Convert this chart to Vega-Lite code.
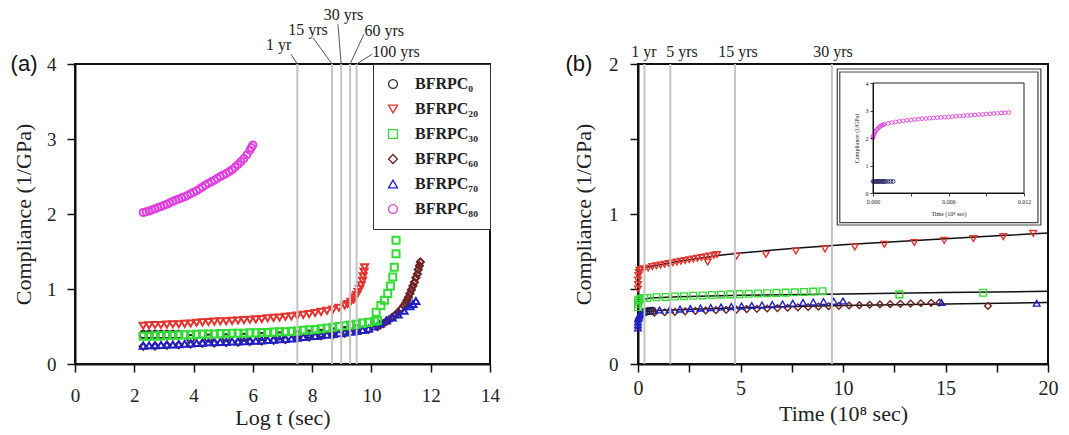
{
"$schema": "https://vega.github.io/schema/vega-lite/v6.json",
"background": "white",
"padding": {"left": 9, "top": 5, "right": 5, "bottom": 2},
"spacing": 63,
"resolve": {"scale": {"color": "independent", "shape": "independent"}, "legend": {"color": "independent", "shape": "independent"}},
"config": {
  "font": "Liberation Serif",
  "view": {"stroke": "#111", "strokeWidth": 2},
  "axis": {"grid": false, "domainColor": "#111", "domainWidth": 2, "tickColor": "#111", "tickWidth": 1.5, "labelColor": "#222", "titleColor": "#222", "labelFont": "Liberation Serif", "titleFont": "Liberation Serif", "titleFontWeight": "normal", "labelFlush": false, "labelOverlap": false}
},
"datasets": {
  "A": [
    {"g":"0","t":2.3,"c":0.395},{"g":"0","t":2.5,"c":0.395},{"g":"0","t":2.7,"c":0.395},{"g":"0","t":2.9,"c":0.395},{"g":"0","t":3.1,"c":0.395},{"g":"0","t":3.3,"c":0.395},{"g":"0","t":3.5,"c":0.395},{"g":"0","t":3.9,"c":0.34},{"g":"0","t":4.5,"c":0.345},{"g":"0","t":5.1,"c":0.35},{"g":"0","t":5.7,"c":0.355},{"g":"0","t":6.3,"c":0.365},{"g":"0","t":6.9,"c":0.375},{"g":"0","t":7.5,"c":0.39},{"g":"0","t":7.9,"c":0.4},{"g":"0","t":8.3,"c":0.41},{"g":"0","t":8.7,"c":0.43},{"g":"0","t":9.1,"c":0.445},{"g":"0","t":9.5,"c":0.47},
    {"g":"60","t":2.3,"c":0.235},{"g":"60","t":2.7,"c":0.24},{"g":"60","t":3.1,"c":0.25},{"g":"60","t":3.5,"c":0.255},{"g":"60","t":3.9,"c":0.265},{"g":"60","t":4.3,"c":0.275},{"g":"60","t":4.7,"c":0.28},{"g":"60","t":5.1,"c":0.285},{"g":"60","t":5.5,"c":0.29},{"g":"60","t":5.9,"c":0.3},{"g":"60","t":6.3,"c":0.305},{"g":"60","t":6.7,"c":0.315},{"g":"60","t":7.1,"c":0.325},{"g":"60","t":7.5,"c":0.34},{"g":"60","t":7.9,"c":0.36},{"g":"60","t":8.3,"c":0.375},{"g":"60","t":8.7,"c":0.39},{"g":"60","t":9.1,"c":0.41},{"g":"60","t":9.5,"c":0.43},{"g":"60","t":9.9,"c":0.46},{"g":"60","t":10.2,"c":0.5},{"g":"60","t":10.3,"c":0.52},{"g":"60","t":10.4,"c":0.54},{"g":"60","t":10.5,"c":0.565},{"g":"60","t":10.6,"c":0.59},{"g":"60","t":10.7,"c":0.62},{"g":"60","t":10.8,"c":0.65},{"g":"60","t":10.9,"c":0.69},{"g":"60","t":11.0,"c":0.73},{"g":"60","t":11.1,"c":0.78},{"g":"60","t":11.15,"c":0.81},{"g":"60","t":11.2,"c":0.85},{"g":"60","t":11.25,"c":0.89},{"g":"60","t":11.3,"c":0.94},{"g":"60","t":11.35,"c":0.99},{"g":"60","t":11.4,"c":1.04},{"g":"60","t":11.45,"c":1.09},{"g":"60","t":11.5,"c":1.15},{"g":"60","t":11.55,"c":1.2},{"g":"60","t":11.58,"c":1.26},{"g":"60","t":11.62,"c":1.31},{"g":"60","t":11.65,"c":1.36},
    {"g":"70","t":2.3,"c":0.245},{"g":"70","t":2.5,"c":0.25},{"g":"70","t":2.7,"c":0.25},{"g":"70","t":2.9,"c":0.255},{"g":"70","t":3.1,"c":0.26},{"g":"70","t":3.3,"c":0.26},{"g":"70","t":3.5,"c":0.265},{"g":"70","t":3.7,"c":0.27},{"g":"70","t":3.9,"c":0.275},{"g":"70","t":4.1,"c":0.28},{"g":"70","t":4.3,"c":0.285},{"g":"70","t":4.5,"c":0.29},{"g":"70","t":4.7,"c":0.29},{"g":"70","t":4.9,"c":0.295},{"g":"70","t":5.1,"c":0.295},{"g":"70","t":5.3,"c":0.3},{"g":"70","t":5.5,"c":0.3},{"g":"70","t":5.7,"c":0.305},{"g":"70","t":5.9,"c":0.31},{"g":"70","t":6.1,"c":0.31},{"g":"70","t":6.3,"c":0.315},{"g":"70","t":6.5,"c":0.32},{"g":"70","t":6.7,"c":0.325},{"g":"70","t":6.9,"c":0.33},{"g":"70","t":7.1,"c":0.335},{"g":"70","t":7.3,"c":0.34},{"g":"70","t":7.5,"c":0.35},{"g":"70","t":7.7,"c":0.36},{"g":"70","t":7.9,"c":0.37},{"g":"70","t":8.1,"c":0.375},{"g":"70","t":8.3,"c":0.385},{"g":"70","t":8.5,"c":0.39},{"g":"70","t":8.7,"c":0.4},{"g":"70","t":8.9,"c":0.41},{"g":"70","t":9.1,"c":0.42},{"g":"70","t":9.3,"c":0.43},{"g":"70","t":9.5,"c":0.44},{"g":"70","t":9.7,"c":0.455},{"g":"70","t":9.9,"c":0.47},{"g":"70","t":10.1,"c":0.5},{"g":"70","t":10.3,"c":0.54},{"g":"70","t":10.5,"c":0.58},{"g":"70","t":10.7,"c":0.62},{"g":"70","t":10.9,"c":0.66},{"g":"70","t":11.1,"c":0.71},{"g":"70","t":11.3,"c":0.77},{"g":"70","t":11.4,"c":0.8},{"g":"70","t":11.5,"c":0.84},
    {"g":"30","t":2.3,"c":0.37},{"g":"30","t":2.5,"c":0.37},{"g":"30","t":2.7,"c":0.375},{"g":"30","t":2.9,"c":0.375},{"g":"30","t":3.1,"c":0.38},{"g":"30","t":3.3,"c":0.38},{"g":"30","t":3.5,"c":0.385},{"g":"30","t":3.7,"c":0.39},{"g":"30","t":3.9,"c":0.39},{"g":"30","t":4.1,"c":0.395},{"g":"30","t":4.3,"c":0.4},{"g":"30","t":4.5,"c":0.4},{"g":"30","t":4.7,"c":0.4},{"g":"30","t":4.9,"c":0.405},{"g":"30","t":5.1,"c":0.405},{"g":"30","t":5.3,"c":0.41},{"g":"30","t":5.5,"c":0.41},{"g":"30","t":5.7,"c":0.41},{"g":"30","t":5.9,"c":0.415},{"g":"30","t":6.1,"c":0.415},{"g":"30","t":6.3,"c":0.42},{"g":"30","t":6.5,"c":0.42},{"g":"30","t":6.7,"c":0.425},{"g":"30","t":6.9,"c":0.43},{"g":"30","t":7.1,"c":0.43},{"g":"30","t":7.3,"c":0.435},{"g":"30","t":7.5,"c":0.44},{"g":"30","t":7.7,"c":0.45},{"g":"30","t":7.9,"c":0.455},{"g":"30","t":8.1,"c":0.46},{"g":"30","t":8.3,"c":0.47},{"g":"30","t":8.5,"c":0.48},{"g":"30","t":8.7,"c":0.49},{"g":"30","t":8.9,"c":0.5},{"g":"30","t":9.1,"c":0.51},{"g":"30","t":9.3,"c":0.52},{"g":"30","t":9.5,"c":0.53},{"g":"30","t":9.7,"c":0.545},{"g":"30","t":9.9,"c":0.555},{"g":"30","t":10.1,"c":0.57},{"g":"30","t":10.2,"c":0.58},{"g":"30","t":10.16,"c":0.69},{"g":"30","t":10.32,"c":0.78},{"g":"30","t":10.44,"c":0.85},{"g":"30","t":10.55,"c":0.94},{"g":"30","t":10.64,"c":1.04},{"g":"30","t":10.72,"c":1.16},{"g":"30","t":10.77,"c":1.29},{"g":"30","t":10.83,"c":1.47},{"g":"30","t":10.83,"c":1.65},
    {"g":"20","t":2.3,"c":0.51},{"g":"20","t":2.5,"c":0.515},{"g":"20","t":2.7,"c":0.52},{"g":"20","t":2.9,"c":0.52},{"g":"20","t":3.1,"c":0.525},{"g":"20","t":3.3,"c":0.53},{"g":"20","t":3.5,"c":0.53},{"g":"20","t":3.7,"c":0.535},{"g":"20","t":3.9,"c":0.54},{"g":"20","t":4.1,"c":0.55},{"g":"20","t":4.3,"c":0.555},{"g":"20","t":4.5,"c":0.56},{"g":"20","t":4.7,"c":0.565},{"g":"20","t":4.9,"c":0.57},{"g":"20","t":5.1,"c":0.57},{"g":"20","t":5.3,"c":0.575},{"g":"20","t":5.5,"c":0.58},{"g":"20","t":5.7,"c":0.585},{"g":"20","t":5.9,"c":0.59},{"g":"20","t":6.1,"c":0.595},{"g":"20","t":6.3,"c":0.6},{"g":"20","t":6.5,"c":0.61},{"g":"20","t":6.7,"c":0.615},{"g":"20","t":6.9,"c":0.62},{"g":"20","t":7.1,"c":0.63},{"g":"20","t":7.3,"c":0.635},{"g":"20","t":7.5,"c":0.645},{"g":"20","t":7.7,"c":0.655},{"g":"20","t":7.9,"c":0.665},{"g":"20","t":8.1,"c":0.68},{"g":"20","t":8.3,"c":0.695},{"g":"20","t":8.5,"c":0.71},{"g":"20","t":8.7,"c":0.725},{"g":"20","t":8.9,"c":0.75},{"g":"20","t":9.1,"c":0.78},{"g":"20","t":9.2,"c":0.8},{"g":"20","t":9.3,"c":0.83},{"g":"20","t":9.4,"c":0.86},{"g":"20","t":9.45,"c":0.89},{"g":"20","t":9.5,"c":0.92},{"g":"20","t":9.55,"c":0.96},{"g":"20","t":9.6,"c":1.0},{"g":"20","t":9.65,"c":1.05},{"g":"20","t":9.7,"c":1.11},{"g":"20","t":9.72,"c":1.17},{"g":"20","t":9.75,"c":1.23},{"g":"20","t":9.77,"c":1.29},
    {"g":"80","t":2.3,"c":2.02},{"g":"80","t":2.4,"c":2.03},{"g":"80","t":2.5,"c":2.04},{"g":"80","t":2.6,"c":2.055},{"g":"80","t":2.7,"c":2.07},{"g":"80","t":2.8,"c":2.085},{"g":"80","t":2.9,"c":2.1},{"g":"80","t":3.0,"c":2.115},{"g":"80","t":3.1,"c":2.13},{"g":"80","t":3.2,"c":2.15},{"g":"80","t":3.3,"c":2.17},{"g":"80","t":3.4,"c":2.185},{"g":"80","t":3.5,"c":2.2},{"g":"80","t":3.6,"c":2.215},{"g":"80","t":3.7,"c":2.23},{"g":"80","t":3.8,"c":2.25},{"g":"80","t":3.9,"c":2.27},{"g":"80","t":4.0,"c":2.29},{"g":"80","t":4.1,"c":2.31},{"g":"80","t":4.2,"c":2.335},{"g":"80","t":4.3,"c":2.36},{"g":"80","t":4.4,"c":2.385},{"g":"80","t":4.5,"c":2.41},{"g":"80","t":4.6,"c":2.43},{"g":"80","t":4.7,"c":2.45},{"g":"80","t":4.8,"c":2.475},{"g":"80","t":4.9,"c":2.5},{"g":"80","t":5.0,"c":2.52},{"g":"80","t":5.1,"c":2.54},{"g":"80","t":5.2,"c":2.565},{"g":"80","t":5.3,"c":2.59},{"g":"80","t":5.4,"c":2.625},{"g":"80","t":5.5,"c":2.66},{"g":"80","t":5.6,"c":2.7},{"g":"80","t":5.7,"c":2.74},{"g":"80","t":5.8,"c":2.79},{"g":"80","t":5.9,"c":2.85},{"g":"80","t":5.95,"c":2.885},{"g":"80","t":6.0,"c":2.92}
  ],
  "vA": [{"x":7.5},{"x":8.67},{"x":8.98},{"x":9.28},{"x":9.5}],
  "lA": [
    {"x1":7.29,"y1":4.13,"x2":7.5,"y2":4.0},
    {"x1":8.03,"y1":4.35,"x2":8.67,"y2":4.0},
    {"x1":8.87,"y1":4.53,"x2":8.98,"y2":4.0},
    {"x1":9.75,"y1":4.4,"x2":9.28,"y2":4.0},
    {"x1":10.02,"y1":4.13,"x2":9.5,"y2":4.0}
  ],
  "tA": [
    {"x":6.87,"y":4.26,"s":"1 yr"},
    {"x":7.86,"y":4.45,"s":"15 yrs"},
    {"x":9.06,"y":4.66,"s":"30 yrs"},
    {"x":10.43,"y":4.44,"s":"60 yrs"},
    {"x":10.83,"y":4.16,"s":"100 yrs"}
  ],
  "B": [
    {"g":"0","t":0.3,"c":0.345},{"g":"0","t":0.4,"c":0.35},{"g":"0","t":0.5,"c":0.352},{"g":"0","t":0.6,"c":0.353},{"g":"0","t":0.7,"c":0.354},
    {"g":"60","t":0.8,"c":0.342},{"g":"60","t":1.3,"c":0.345},{"g":"60","t":1.8,"c":0.348},{"g":"60","t":2.3,"c":0.351},{"g":"60","t":2.8,"c":0.354},{"g":"60","t":3.3,"c":0.357},{"g":"60","t":3.8,"c":0.359},{"g":"60","t":4.3,"c":0.361},{"g":"60","t":4.8,"c":0.363},{"g":"60","t":5.3,"c":0.366},{"g":"60","t":5.8,"c":0.368},{"g":"60","t":6.3,"c":0.37},{"g":"60","t":6.8,"c":0.373},{"g":"60","t":7.3,"c":0.375},{"g":"60","t":7.8,"c":0.378},{"g":"60","t":8.3,"c":0.38},{"g":"60","t":8.8,"c":0.383},{"g":"60","t":9.3,"c":0.385},{"g":"60","t":9.8,"c":0.388},{"g":"60","t":10.3,"c":0.39},{"g":"60","t":10.8,"c":0.392},{"g":"60","t":11.3,"c":0.395},{"g":"60","t":11.8,"c":0.397},{"g":"60","t":12.3,"c":0.399},{"g":"60","t":12.8,"c":0.401},{"g":"60","t":13.3,"c":0.403},{"g":"60","t":13.8,"c":0.405},{"g":"60","t":14.3,"c":0.407},{"g":"60","t":14.7,"c":0.409},{"g":"60","t":17.07,"c":0.387},
    {"g":"70","t":0,"c":0.24},{"g":"70","t":0,"c":0.26},{"g":"70","t":0,"c":0.28},{"g":"70","t":0.01,"c":0.3},{"g":"70","t":0.03,"c":0.31},{"g":"70","t":0.06,"c":0.32},{"g":"70","t":0.1,"c":0.33},{"g":"70","t":0.15,"c":0.335},{"g":"70","t":1.05,"c":0.36},{"g":"70","t":1.55,"c":0.363},{"g":"70","t":2.05,"c":0.366},{"g":"70","t":2.55,"c":0.37},{"g":"70","t":3.05,"c":0.373},{"g":"70","t":3.55,"c":0.376},{"g":"70","t":4.05,"c":0.38},{"g":"70","t":4.55,"c":0.383},{"g":"70","t":5.05,"c":0.386},{"g":"70","t":5.55,"c":0.39},{"g":"70","t":6.05,"c":0.393},{"g":"70","t":6.55,"c":0.396},{"g":"70","t":7.05,"c":0.4},{"g":"70","t":7.55,"c":0.405},{"g":"70","t":8.05,"c":0.41},{"g":"70","t":8.55,"c":0.413},{"g":"70","t":9.05,"c":0.416},{"g":"70","t":9.55,"c":0.418},{"g":"70","t":10.0,"c":0.42},{"g":"70","t":14.8,"c":0.41},{"g":"70","t":19.45,"c":0.405},
    {"g":"30","t":0,"c":0.38},{"g":"30","t":0,"c":0.4},{"g":"30","t":0.01,"c":0.415},{"g":"30","t":0.03,"c":0.425},{"g":"30","t":0.06,"c":0.43},{"g":"30","t":0.12,"c":0.435},{"g":"30","t":0.3,"c":0.44},{"g":"30","t":0.45,"c":0.44},{"g":"30","t":0.9,"c":0.445},{"g":"30","t":1.35,"c":0.447},{"g":"30","t":1.8,"c":0.45},{"g":"30","t":2.25,"c":0.452},{"g":"30","t":2.7,"c":0.455},{"g":"30","t":3.15,"c":0.457},{"g":"30","t":3.6,"c":0.46},{"g":"30","t":4.05,"c":0.462},{"g":"30","t":4.5,"c":0.464},{"g":"30","t":4.95,"c":0.466},{"g":"30","t":5.4,"c":0.468},{"g":"30","t":5.85,"c":0.47},{"g":"30","t":6.3,"c":0.472},{"g":"30","t":6.75,"c":0.474},{"g":"30","t":7.2,"c":0.476},{"g":"30","t":7.65,"c":0.478},{"g":"30","t":8.1,"c":0.48},{"g":"30","t":8.55,"c":0.483},{"g":"30","t":9.0,"c":0.485},{"g":"30","t":12.75,"c":0.464},{"g":"30","t":16.84,"c":0.475},
    {"g":"20","t":0,"c":0.5},{"g":"20","t":0,"c":0.53},{"g":"20","t":0,"c":0.56},{"g":"20","t":0.02,"c":0.59},{"g":"20","t":0.04,"c":0.61},{"g":"20","t":0.08,"c":0.625},{"g":"20","t":0.15,"c":0.63},{"g":"20","t":0.3,"c":0.635},{"g":"20","t":0.5,"c":0.64},{"g":"20","t":0.7,"c":0.65},{"g":"20","t":0.9,"c":0.655},{"g":"20","t":1.1,"c":0.66},{"g":"20","t":1.3,"c":0.665},{"g":"20","t":1.5,"c":0.67},{"g":"20","t":1.7,"c":0.675},{"g":"20","t":1.9,"c":0.68},{"g":"20","t":2.1,"c":0.685},{"g":"20","t":2.3,"c":0.69},{"g":"20","t":2.5,"c":0.695},{"g":"20","t":2.7,"c":0.7},{"g":"20","t":2.9,"c":0.705},{"g":"20","t":3.1,"c":0.71},{"g":"20","t":3.3,"c":0.715},{"g":"20","t":3.4,"c":0.68},{"g":"20","t":3.5,"c":0.72},{"g":"20","t":3.7,"c":0.725},{"g":"20","t":3.85,"c":0.73},{"g":"20","t":4.81,"c":0.72},{"g":"20","t":6.24,"c":0.73},{"g":"20","t":7.7,"c":0.753},{"g":"20","t":9.12,"c":0.767},{"g":"20","t":10.58,"c":0.78},{"g":"20","t":12.02,"c":0.798},{"g":"20","t":13.48,"c":0.81},{"g":"20","t":14.94,"c":0.824},{"g":"20","t":16.36,"c":0.836},{"g":"20","t":17.82,"c":0.849},{"g":"20","t":19.28,"c":0.871}
  ],
  "F": [
    {"f":"a","t":0,"c":0.58},{"f":"a","t":0.05,"c":0.61},{"f":"a","t":0.15,"c":0.63},{"f":"a","t":0.4,"c":0.645},{"f":"a","t":1,"c":0.66},{"f":"a","t":2,"c":0.685},{"f":"a","t":3,"c":0.705},{"f":"a","t":4,"c":0.725},{"f":"a","t":5,"c":0.74},{"f":"a","t":7.5,"c":0.77},{"f":"a","t":10,"c":0.795},{"f":"a","t":12.5,"c":0.815},{"f":"a","t":15,"c":0.835},{"f":"a","t":17.5,"c":0.855},{"f":"a","t":20,"c":0.873},
    {"f":"b","t":0,"c":0.4},{"f":"b","t":0.05,"c":0.42},{"f":"b","t":0.2,"c":0.43},{"f":"b","t":0.6,"c":0.44},{"f":"b","t":2,"c":0.448},{"f":"b","t":5,"c":0.458},{"f":"b","t":10,"c":0.467},{"f":"b","t":15,"c":0.476},{"f":"b","t":20,"c":0.485},
    {"f":"c","t":0,"c":0.3},{"f":"c","t":0.05,"c":0.33},{"f":"c","t":0.2,"c":0.345},{"f":"c","t":0.5,"c":0.352},{"f":"c","t":1,"c":0.356},{"f":"c","t":2,"c":0.362},{"f":"c","t":5,"c":0.375},{"f":"c","t":10,"c":0.39},{"f":"c","t":15,"c":0.4},{"f":"c","t":20,"c":0.41}
  ],
  "vB": [{"x":0.315},{"x":1.577},{"x":4.73},{"x":9.46}],
  "tB": [
    {"x":0.29,"y":2.08,"s":"1 yr"},
    {"x":2.15,"y":2.08,"s":"5 yrs"},
    {"x":4.88,"y":2.08,"s":"15 yrs"},
    {"x":9.51,"y":2.08,"s":"30 yrs"}
  ],
  "C": [
    {"g":"0","t":0,"c":0.42},{"g":"0","t":0.0001,"c":0.42},{"g":"0","t":0.0002,"c":0.42},{"g":"0","t":0.0003,"c":0.42},{"g":"0","t":0.0004,"c":0.42},{"g":"0","t":0.0005,"c":0.42},{"g":"0","t":0.0006,"c":0.42},{"g":"0","t":0.0007,"c":0.42},{"g":"0","t":0.0008,"c":0.42},{"g":"0","t":0.0009,"c":0.42},{"g":"0","t":0.001,"c":0.42},{"g":"0","t":0.0012,"c":0.42},{"g":"0","t":0.0014,"c":0.42},{"g":"0","t":0.0016,"c":0.42},
    {"g":"80","t":0,"c":2.0},{"g":"80","t":0,"c":2.05},{"g":"80","t":0.00005,"c":2.1},{"g":"80","t":0.0001,"c":2.15},{"g":"80","t":0.00015,"c":2.2},{"g":"80","t":0.0002,"c":2.25},{"g":"80","t":0.0003,"c":2.3},{"g":"80","t":0.0004,"c":2.35},{"g":"80","t":0.0005,"c":2.4},{"g":"80","t":0.0006,"c":2.43},{"g":"80","t":0.0007,"c":2.46},{"g":"80","t":0.0008,"c":2.48},{"g":"80","t":0.0009,"c":2.5},
    {"g":"80","t":0.0012,"c":2.53},{"g":"80","t":0.0015,"c":2.56},{"g":"80","t":0.0018,"c":2.585},{"g":"80","t":0.0021,"c":2.605},{"g":"80","t":0.0024,"c":2.625},{"g":"80","t":0.0027,"c":2.64},{"g":"80","t":0.003,"c":2.655},{"g":"80","t":0.0033,"c":2.67},{"g":"80","t":0.0036,"c":2.685},{"g":"80","t":0.0039,"c":2.7},{"g":"80","t":0.0042,"c":2.71},{"g":"80","t":0.0045,"c":2.72},{"g":"80","t":0.0048,"c":2.73},{"g":"80","t":0.0051,"c":2.74},{"g":"80","t":0.0054,"c":2.75},{"g":"80","t":0.0057,"c":2.76},{"g":"80","t":0.006,"c":2.77},{"g":"80","t":0.0063,"c":2.78},{"g":"80","t":0.0066,"c":2.79},{"g":"80","t":0.0069,"c":2.8},{"g":"80","t":0.0072,"c":2.81},{"g":"80","t":0.0075,"c":2.82},{"g":"80","t":0.0078,"c":2.83},{"g":"80","t":0.0081,"c":2.84},{"g":"80","t":0.0084,"c":2.85},{"g":"80","t":0.0087,"c":2.86},{"g":"80","t":0.009,"c":2.87},{"g":"80","t":0.0093,"c":2.88},{"g":"80","t":0.0096,"c":2.89},{"g":"80","t":0.0099,"c":2.9},{"g":"80","t":0.0102,"c":2.91},{"g":"80","t":0.0105,"c":2.92},{"g":"80","t":0.0108,"c":2.93}
  ],
  "IB": [
    {"x1":-0.00284,"x2":0.01334,"y1":-1.164,"y2":4.51},
    {"x1":-0.00264,"x2":0.01311,"y1":-1.08,"y2":4.4}
  ],
  "IF": [{"x1":0,"x2":0.012,"y1":0,"y2":4}]
},
"hconcat": [
  {
    "width": 415,
    "height": 300,
    "layer": [
      {
        "data": {"name": "A"},
        "mark": {"type": "point", "filled": false, "size": 50, "strokeWidth": 2, "opacity": 1},
        "encoding": {
          "x": {"field": "t", "type": "quantitative", "scale": {"domain": [0, 14], "nice": false},
                "axis": {"title": "Log t (sec)", "values": [0,1,2,3,4,5,6,7,8,9,10,11,12,13,14], "format": "d", "labelExpr": "datum.value % 2 == 0 ? datum.label : ''", "tickSize": 8, "labelPadding": 14, "labelFontSize": 19, "titleFontSize": 22, "titlePadding": 2}},
          "y": {"field": "c", "type": "quantitative", "scale": {"domain": [0, 4], "nice": false},
                "axis": {"title": "Compliance (1/GPa)", "values": [0,0.5,1,1.5,2,2.5,3,3.5,4], "format": "d", "labelExpr": "datum.value % 1 == 0 ? datum.label : ''", "tickSize": 8, "labelPadding": 11, "labelFontSize": 19, "titleFontSize": 22, "titlePadding": 11}},
          "color": {"field": "g", "type": "nominal",
                    "scale": {"domain": ["0","20","30","60","70","80"], "range": ["#2a2a2a","#e3342f","#33dd33","#6d2323","#2020c8","#e040e0"]},
                    "legend": {"title": null, "orient": "top-right", "offset": 0, "padding": 12, "rowPadding": 9, "strokeColor": "#333", "fillColor": "white", "labelFont": "Liberation Serif", "labelFontSize": 16, "labelFontWeight": "bold", "labelColor": "#222", "symbolSize": 80, "symbolStrokeWidth": 1.3, "labelOffset": 14,
                               "labelExpr": "datum.label == '0' ? 'BFRPC₀' : datum.label == '20' ? 'BFRPC₂₀' : datum.label == '30' ? 'BFRPC₃₀' : datum.label == '60' ? 'BFRPC₆₀' : datum.label == '70' ? 'BFRPC₇₀' : 'BFRPC₈₀'"}},
          "shape": {"field": "g", "type": "nominal",
                    "scale": {"domain": ["0","20","30","60","70","80"], "range": ["circle","triangle-down","square","diamond","triangle-up","circle"]}}
        }
      },
      {
        "data": {"name": "vA"},
        "mark": {"type": "rule", "color": "#c4c4c4", "strokeWidth": 2},
        "encoding": {
          "x": {"field": "x", "type": "quantitative", "scale": {"domain": [0, 14], "nice": false}},
          "y": {"datum": 0, "type": "quantitative", "scale": {"domain": [0, 4], "nice": false}},
          "y2": {"datum": 4}
        }
      },
      {
        "data": {"name": "lA"},
        "mark": {"type": "rule", "color": "#555", "strokeWidth": 1},
        "encoding": {
          "x": {"field": "x1", "type": "quantitative", "scale": {"domain": [0, 14], "nice": false}},
          "y": {"field": "y1", "type": "quantitative", "scale": {"domain": [0, 4], "nice": false}},
          "x2": {"field": "x2"},
          "y2": {"field": "y2"}
        }
      },
      {
        "data": {"name": "tA"},
        "mark": {"type": "text", "font": "Liberation Serif", "fontSize": 16, "color": "#222", "align": "center", "baseline": "middle"},
        "encoding": {
          "x": {"field": "x", "type": "quantitative", "scale": {"domain": [0, 14], "nice": false}},
          "y": {"field": "y", "type": "quantitative", "scale": {"domain": [0, 4], "nice": false}},
          "text": {"field": "s"}
        }
      },
      {
        "data": {"values": [{"x": -1.72, "y": 4.0, "s": "(a)"}]},
        "mark": {"type": "text", "font": "Liberation Sans", "fontSize": 22, "color": "#111", "align": "center", "baseline": "middle"},
        "encoding": {
          "x": {"field": "x", "type": "quantitative", "scale": {"domain": [0, 14], "nice": false}},
          "y": {"field": "y", "type": "quantitative", "scale": {"domain": [0, 4], "nice": false}},
          "text": {"field": "s"}
        }
      }
    ]
  },
  {
    "width": 410,
    "height": 300,
    "resolve": {"scale": {"x": "independent", "y": "independent"}, "axis": {"x": "independent", "y": "independent"}},
    "layer": [
      {
        "layer": [
          {
            "data": {"name": "F"},
            "mark": {"type": "line", "color": "#111", "strokeWidth": 1.5},
            "encoding": {
              "x": {"field": "t", "type": "quantitative", "scale": {"domain": [0, 20], "nice": false}},
              "y": {"field": "c", "type": "quantitative", "scale": {"domain": [0, 2], "nice": false}},
              "detail": {"field": "f"}
            }
          },
          {
            "data": {"name": "B"},
            "mark": {"type": "point", "filled": false, "size": 45, "strokeWidth": 1.4, "opacity": 1},
            "encoding": {
              "x": {"field": "t", "type": "quantitative", "scale": {"domain": [0, 20], "nice": false},
                    "axis": {"title": "Time (10⁸ sec)", "values": [0,2.5,5,7.5,10,12.5,15,17.5,20], "format": "d", "labelExpr": "datum.value % 5 == 0 ? datum.label : ''", "tickSize": 8, "labelPadding": 6, "labelFontSize": 20, "titleFontSize": 22, "titlePadding": 5}},
              "y": {"field": "c", "type": "quantitative", "scale": {"domain": [0, 2], "nice": false},
                    "axis": {"title": "Compliance (1/GPa)", "values": [0,0.5,1,1.5,2], "format": ".1f", "labelExpr": "datum.value == 0 ? '0' : datum.value == 1 ? '1' : datum.value == 2 ? '2' : ''", "labelOverlap": false, "labelBound": false, "tickSize": 8, "labelPadding": 12, "labelFontSize": 19, "titleFontSize": 22, "titlePadding": 13}},
              "color": {"field": "g", "type": "nominal", "legend": null,
                        "scale": {"domain": ["0","20","30","60","70","80"], "range": ["#1c1c5a","#e3342f","#33dd33","#6d2323","#2020c8","#e040e0"]}},
              "shape": {"field": "g", "type": "nominal", "legend": null,
                        "scale": {"domain": ["0","20","30","60","70","80"], "range": ["circle","triangle-down","square","diamond","triangle-up","circle"]}}
            }
          },
          {
            "data": {"name": "vB"},
            "mark": {"type": "rule", "color": "#c4c4c4", "strokeWidth": 2},
            "encoding": {
              "x": {"field": "x", "type": "quantitative", "scale": {"domain": [0, 20], "nice": false}},
              "y": {"datum": 0, "type": "quantitative", "scale": {"domain": [0, 2], "nice": false}},
              "y2": {"datum": 2}
            }
          },
          {
            "data": {"name": "tB"},
            "mark": {"type": "text", "font": "Liberation Serif", "fontSize": 16, "color": "#222", "align": "center", "baseline": "middle"},
            "encoding": {
              "x": {"field": "x", "type": "quantitative", "scale": {"domain": [0, 20], "nice": false}},
              "y": {"field": "y", "type": "quantitative", "scale": {"domain": [0, 2], "nice": false}},
              "text": {"field": "s"}
            }
          },
          {
            "data": {"values": [{"x": -2.88, "y": 2.0, "s": "(b)"}]},
            "mark": {"type": "text", "font": "Liberation Sans", "fontSize": 22, "color": "#111", "align": "center", "baseline": "middle"},
            "encoding": {
              "x": {"field": "x", "type": "quantitative", "scale": {"domain": [0, 20], "nice": false}},
              "y": {"field": "y", "type": "quantitative", "scale": {"domain": [0, 2], "nice": false}},
              "text": {"field": "s"}
            }
          }
        ]
      },
      {
        "layer": [
          {
            "data": {"name": "IB"},
            "mark": {"type": "rect", "fill": "white", "stroke": "#444", "strokeWidth": 1.2},
            "encoding": {
              "x": {"field": "x1", "type": "quantitative", "scale": {"domain": [0, 0.012], "range": [235, 386], "nice": false, "zero": false}},
              "x2": {"field": "x2"},
              "y": {"field": "y1", "type": "quantitative", "scale": {"domain": [0, 4], "range": [129, 19], "nice": false, "zero": false}},
              "y2": {"field": "y2"}
            }
          },
          {
            "data": {"name": "IF"},
            "mark": {"type": "rect", "fillOpacity": 0, "stroke": "#222", "strokeWidth": 1},
            "encoding": {
              "x": {"field": "x1", "type": "quantitative", "scale": {"domain": [0, 0.012], "range": [235, 386], "nice": false, "zero": false}},
              "x2": {"field": "x2"},
              "y": {"field": "y1", "type": "quantitative", "scale": {"domain": [0, 4], "range": [129, 19], "nice": false, "zero": false}},
              "y2": {"field": "y2"}
            }
          },
          {
            "data": {"name": "C"},
            "mark": {"type": "point", "shape": "circle", "filled": false, "size": 14, "strokeWidth": 0.9, "opacity": 1},
            "encoding": {
              "x": {"field": "t", "type": "quantitative", "scale": {"domain": [0, 0.012], "range": [235, 386], "nice": false, "zero": false},
                    "axis": {"orient": "bottom", "offset": -171, "zindex": 2, "title": "Time (10⁸ sec)", "values": [0,0.003,0.006,0.009,0.012], "format": ".3f", "labelExpr": "(datum.value*1000) % 6 < 0.01 ? datum.label : ''", "tickSize": 3, "tickWidth": 0.8, "domainWidth": 1, "labelPadding": 2, "labelFontSize": 6, "titleFontSize": 6, "titlePadding": 6}},
              "y": {"field": "c", "type": "quantitative", "scale": {"domain": [0, 4], "range": [129, 19], "nice": false, "zero": false},
                    "axis": {"orient": "left", "offset": -235, "zindex": 2, "title": "Compliance (1/GPa)", "values": [0,1,2,3,4], "format": "d", "tickSize": 3, "tickWidth": 0.8, "domainWidth": 1, "labelPadding": 2, "labelFontSize": 6, "titleFontSize": 6, "titlePadding": 6}},
              "color": {"field": "g", "type": "nominal", "legend": null,
                        "scale": {"domain": ["0","20","30","60","70","80"], "range": ["#1c1c5a","#e3342f","#33dd33","#6d2323","#2020c8","#e040e0"]}}
            }
          }
        ]
      }
    ]
  }
]
}
